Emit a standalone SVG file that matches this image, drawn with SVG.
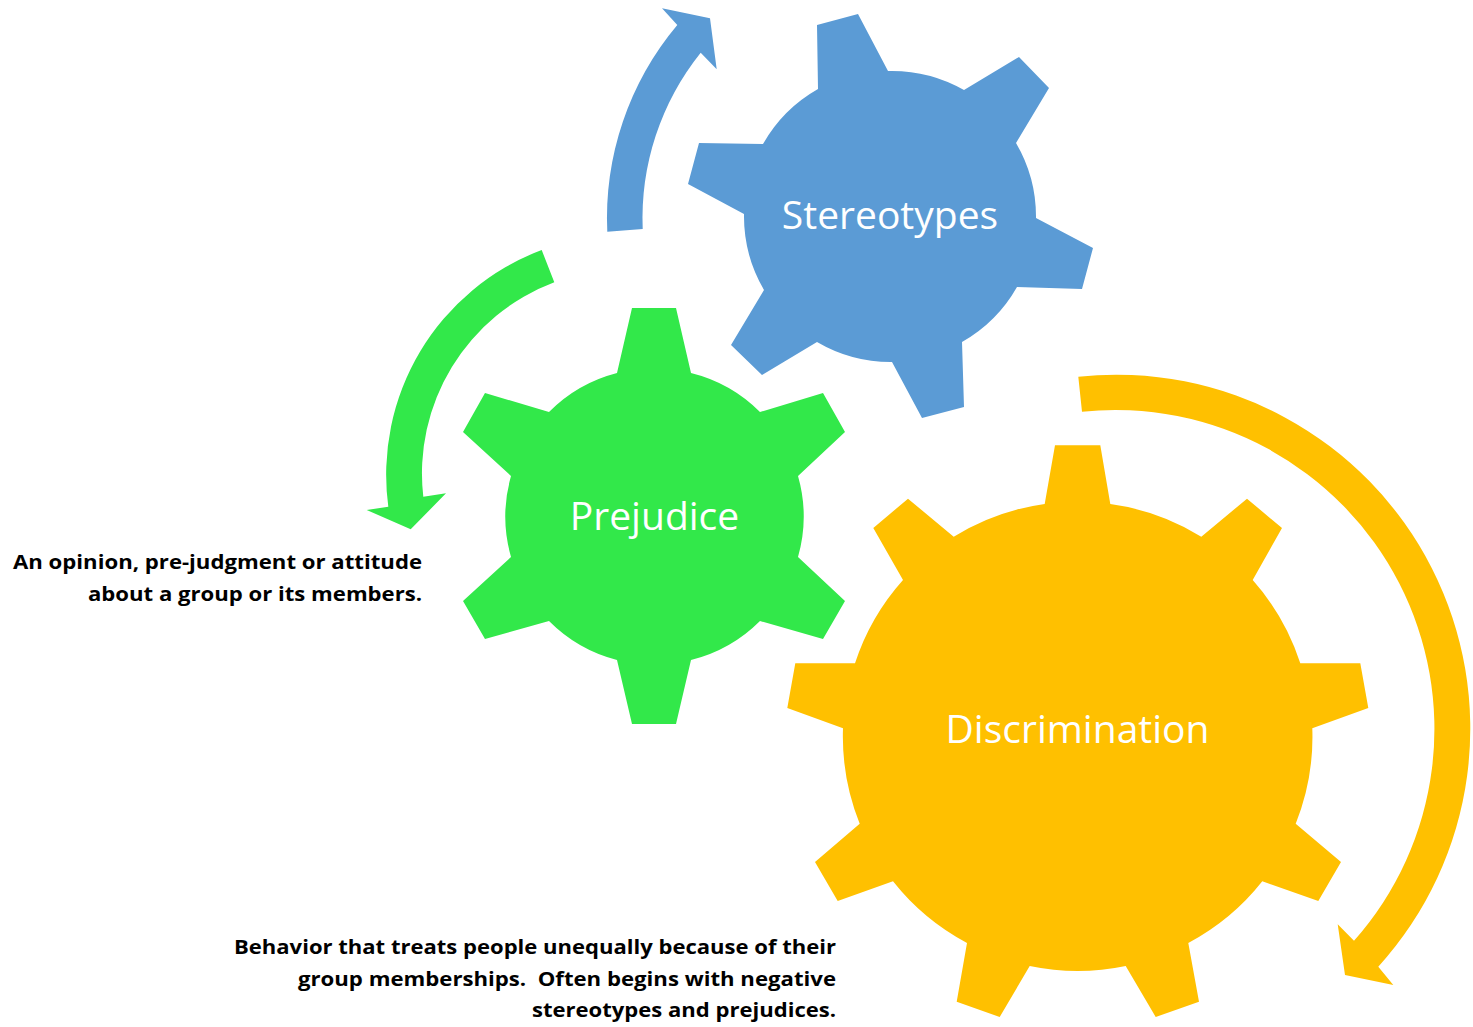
<svg xmlns="http://www.w3.org/2000/svg" width="1473" height="1027" viewBox="0 0 1473 1027">
<style>
.blue{fill:#5B9BD5}
.green{fill:#32E84A}
.gold{fill:#FFC000}
.label{font-family:"Open Sans","Noto Sans","Liberation Sans",sans-serif;font-size:39px;fill:#FFFFFF;text-anchor:middle}
.desc{font-family:"Open Sans","Noto Sans","Liberation Sans",sans-serif;font-size:19.5px;font-weight:bold;fill:#000000;white-space:pre}
</style>
<rect x="0" y="0" width="1473" height="1027" fill="#FFFFFF"/>
<g id="connectors">
<path id="arrow-blue" class="blue" d="M607.3,231.7 A300,300 0 0 1 677.3,25 L662,8.3 L710,18.3 L716.7,69.3 L700.7,52.7 A265,265 0 0 0 642.7,229 Z"/>
<path id="arrow-green" class="green" d="M541.7,250 A240,240 0 0 0 388.3,506.7 L366.7,510 L410.7,529.3 L446,493.3 L423.3,496.7 A204,204 0 0 1 554.3,282.3 Z"/>
<path id="arrow-gold" class="gold" d="M1078.3,376.7 A354,354 0 0 1 1378.3,966.7 L1393.3,985 L1345,975 L1337.7,924.3 L1354,940.7 A319,319 0 0 0 1082,411.7 Z"/>
</g>
<g id="gear-stereotypes">
<path class="blue" d="M818,89 L817,25 L858,14 L888,71 A146,146 0 0 1 964,90 L1019,57 L1049,88 L1016,143 A146,146 0 0 1 1036,218 L1093,248 L1082,289 L1017,287 A146,146 0 0 1 962,342 L964,407 L922,418 L892,362 A146,146 0 0 1 817,342 L762,375 L731,345 L764,290 A146,146 0 0 1 744,214 L688,184 L699,143 L763,144 A146,146 0 0 1 818,89 Z"/>
<text class="label" x="890" y="229">Stereotypes</text>
</g>
<g id="gear-prejudice">
<path class="green" d="M617,373 L632,308 L676,308 L691,373 A148,148 0 0 1 760,412 L823,393 L845,432 L798,476 A148,148 0 0 1 798,557 L845,601 L823,639 L760,621 A148,148 0 0 1 691,660 L676,724 L632,724 L617,660 A148,148 0 0 1 549,621 L485,639 L463,601 L511,557 A148,148 0 0 1 511,476 L463,432 L485,393 L549,412 A148,148 0 0 1 617,373 Z"/>
<text class="label" x="654.5" y="530">Prejudice</text>
</g>
<g id="gear-discrimination">
<path class="gold" d="M1044.7,504 L1055,445.3 L1100.3,445.3 L1110.3,504 A234,234 0 0 1 1201.3,536.7 L1247,498.7 L1282,528 L1252.7,580 A234,234 0 0 1 1300.3,663.3 L1360.3,663.3 L1368.3,708 L1312.3,728.3 A234,234 0 0 1 1295.7,823.7 L1341,862 L1318.3,901 L1262.3,881.3 A234,234 0 0 1 1188.3,943 L1199,1001.7 L1155.7,1017 L1125.7,966 A234,234 0 0 1 1029.7,966 L999.7,1017 L956.7,1001.7 L967,943 A234,234 0 0 1 893,881.3 L837.7,901 L815,862 L859.7,823.7 A234,234 0 0 1 843,728.3 L787.3,708 L795.3,663.3 L855,663.3 A234,234 0 0 1 903,580 L873.3,528 L908,498.7 L953.7,536.7 A234,234 0 0 1 1044.7,504 Z"/>
<text class="label" x="1077.5" y="743">Discrimination</text>
</g>
<g id="desc-prejudice">
<text class="desc" x="13" y="569" textLength="409" lengthAdjust="spacingAndGlyphs">An opinion, pre-judgment or attitude</text>
<text class="desc" x="88" y="601" textLength="334" lengthAdjust="spacingAndGlyphs">about a group or its members.</text>
</g>
<g id="desc-discrimination">
<text class="desc" x="234" y="954" textLength="602" lengthAdjust="spacingAndGlyphs">Behavior that treats people unequally because of their</text>
<text class="desc" x="298" y="986" textLength="538" lengthAdjust="spacingAndGlyphs">group memberships.  Often begins with negative</text>
<text class="desc" x="532" y="1017" textLength="304" lengthAdjust="spacingAndGlyphs">stereotypes and prejudices.</text>
</g>
</svg>
